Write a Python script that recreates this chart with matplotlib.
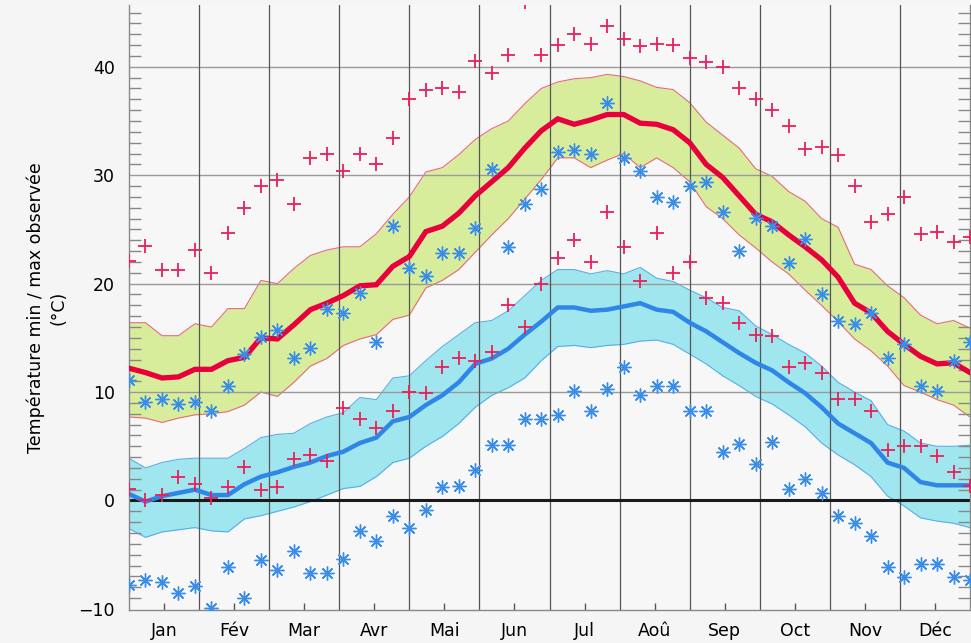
import numpy as np
import matplotlib
matplotlib.use("Agg")
import matplotlib.pyplot as plt

months = ["Jan", "Fév", "Mar", "Avr", "Mai", "Jun", "Jul", "Aoû", "Sep", "Oct", "Nov", "Déc"]

# weekly values (52 points over the year)
tmax_mean = [12.2, 11.8, 11.3, 11.4, 12.1, 12.1, 12.9, 13.2, 15.0, 14.9, 16.2, 17.6, 18.2, 18.9,
             19.8, 19.9, 21.6, 22.5, 24.8, 25.3, 26.5, 28.1, 29.4, 30.7, 32.5, 34.1, 35.2,
             34.7, 35.1, 35.6, 35.6, 34.8, 34.7, 34.2, 33.0, 31.0, 29.8, 28.1, 26.4,
             25.7, 24.5, 23.4, 22.2, 20.6, 18.2, 17.3, 15.6, 14.4, 13.3, 12.6, 12.7, 11.8]
tmax_hi = [16.4, 16.4, 15.2, 15.2, 16.3, 16.0, 17.7, 17.7, 20.3, 20.0, 21.4, 22.6, 23.1, 23.4,
           23.4, 24.6, 26.4, 28.0, 30.3, 30.7, 31.9, 33.3, 34.3, 35.0, 36.6, 38.0, 38.6,
           38.9, 39.0, 39.3, 39.1, 38.7, 38.1, 37.9, 36.7, 34.9, 33.7, 32.5, 30.6,
           29.9, 28.5, 27.6, 26.0, 25.2, 21.8, 21.3, 19.8, 18.7, 17.1, 16.3, 16.6, 15.9]
tmax_lo = [7.7, 7.6, 7.2, 7.6, 7.9, 8.0, 8.2, 8.8, 10.0, 9.6, 10.9, 12.4, 13.1, 14.3,
           14.9, 15.3, 16.7, 17.1, 19.6, 20.3, 21.3, 22.9, 24.5, 26.0, 27.8, 29.6, 31.6,
           31.6, 30.7, 31.4, 32.0, 30.7, 31.6, 30.7, 29.4, 27.1, 26.0, 24.5, 23.3,
           22.0, 20.9, 19.4, 18.0, 16.5, 14.9, 13.8, 12.4, 10.6, 10.0, 9.3, 8.8, 7.7]
tmin_mean = [0.6, -0.1, 0.4, 0.7, 1.0, 0.5, 0.5, 1.5, 2.2, 2.6, 3.1, 3.5, 4.1, 4.5,
             5.3, 5.8, 7.3, 7.7, 8.8, 9.7, 10.9, 12.6, 13.1, 14.0, 15.3, 16.5, 17.8,
             17.8, 17.5, 17.6, 17.9, 18.2, 17.6, 17.4, 16.4, 15.6, 14.6, 13.6, 12.7,
             12.0, 10.9, 9.9, 8.6, 7.1, 6.2, 5.3, 3.5, 3.0, 1.7, 1.4, 1.4, 1.4]
tmin_hi = [3.9, 3.0, 3.5, 3.8, 3.9, 3.9, 3.9, 4.8, 5.8, 6.1, 6.2, 7.1, 7.7, 8.1,
           9.5, 9.3, 11.3, 11.5, 12.9, 14.2, 15.3, 16.4, 16.6, 17.5, 18.9, 20.3, 21.3,
           21.3, 20.9, 21.2, 20.9, 21.5, 20.5, 20.2, 19.4, 18.7, 17.8, 17.5, 16.1,
           15.3, 14.4, 13.6, 12.4, 10.9, 10.0, 9.2, 7.0, 6.4, 5.3, 5.0, 5.0, 5.1]
tmin_lo = [-2.6, -3.4, -2.9, -2.7, -2.5, -2.8, -2.9, -1.7, -1.4, -1.0, -0.6, -0.1, 0.5, 1.1,
           1.3, 2.2, 3.5, 3.9, 5.0, 5.9, 7.1, 8.6, 9.7, 10.4, 11.3, 12.9, 14.2,
           14.3, 14.1, 14.3, 14.4, 14.7, 14.8, 14.4, 13.5, 12.6, 11.5, 10.6, 9.6,
           8.9, 7.9, 6.8, 5.3, 4.2, 3.3, 2.2, 0.4, -0.5, -1.6, -1.9, -2.1, -2.5]
rec_max_hi = [22.1, 23.5, 21.25, 21.25, 23.1, 21.0, 24.7, 27.0, 29.0, 29.6, 27.3, 31.6, 32.0, 30.4,
              32.0, 31.0, 33.4, 37.0, 37.9, 38.05, 37.7, 40.5, 39.4, 41.1, 46.0, 41.1, 42.0,
              43.0, 42.1, 43.8, 42.6, 41.9, 42.1, 42.0, 40.8, 40.4, 40.0, 38.0, 37.0,
              36.0, 34.5, 32.4, 32.6, 31.9, 29.0, 25.7, 26.4, 28.0, 24.6, 24.8, 23.8, 24.3]
rec_max_lo = [1.05, 0.0, 0.5, 2.2, 1.5, 0.25, 1.2, 3.1, 1.0, 1.2, 3.8, 4.2, 3.6, 8.5,
              7.5, 6.7, 8.3, 10.0, 9.9, 12.3, 13.1, 12.9, 13.7, 18.0, 16.0, 20.0, 22.4,
              24.0, 22.0, 26.6, 23.4, 20.2, 24.7, 21.0, 22.0, 18.7, 18.2, 16.4, 15.3,
              15.2, 12.3, 12.7, 11.8, 9.4, 9.4, 8.3, 4.7, 5.0, 5.0, 4.1, 2.6, 1.3]
rec_min_hi = [11.1, 9.1, 9.4, 8.9, 9.1, 8.3, 10.6, 13.5, 15.1, 15.7, 13.1, 14.1, 17.7, 17.3,
              19.1, 14.6, 25.3, 21.4, 20.7, 22.8, 22.8, 25.1, 30.6, 23.4, 27.3, 28.7, 32.1,
              32.3, 32.0, 36.7, 31.6, 30.4, 28.0, 27.5, 29.0, 29.4, 26.6, 23.0, 26.1,
              25.3, 21.9, 24.1, 19.0, 16.6, 16.3, 17.3, 13.1, 14.4, 10.6, 10.1, 12.9, 14.6]
rec_min_lo = [-7.8, -7.3, -7.5, -8.5, -7.9, -9.9, -6.1, -9.0, -5.5, -6.4, -4.7, -6.7, -6.7, -5.4,
              -2.8, -3.7, -1.4, -2.5, -0.9, 1.2, 1.3, 2.8, 5.1, 5.1, 7.5, 7.5, 7.9,
              10.1, 8.3, 10.3, 12.3, 9.7, 10.6, 10.6, 8.3, 8.3, 4.5, 5.2, 3.4,
              5.4, 1.05, 2.0, 0.7, -1.4, -2.1, -3.3, -6.1, -7.1, -5.9, -5.9, -7.1, -7.35]

x = np.linspace(0, 12, len(tmax_mean))

BG = "#f7f7f7"
fig = plt.figure(figsize=(9.71, 6.43), dpi=100, facecolor="#f5f5f5")
ax = fig.add_axes([129 / 971, 1 - 610 / 643, 841 / 971, 605 / 643])
ax.set_facecolor(BG)

# bands
ax.fill_between(x, tmax_lo, tmax_hi, color="#d8ed9c", lw=0, zorder=1)
ax.plot(x, tmax_hi, color="#e86a80", lw=0.8, zorder=1.5)
ax.plot(x, tmax_lo, color="#e86a80", lw=0.8, zorder=1.5)
ax.fill_between(x, tmin_lo, tmin_hi, color="#a0e6ee", lw=0, zorder=1)
ax.plot(x, tmin_hi, color="#5aaee8", lw=0.8, zorder=1.5)
ax.plot(x, tmin_lo, color="#5aaee8", lw=0.8, zorder=1.5)

# grid
for yv in [10, 20, 30, 40]:
    ax.axhline(yv, color="#9a9a9a", lw=1.0, zorder=2)
for m in range(1, 12):
    ax.axvline(m, color="#555555", lw=0.9, zorder=2)
ax.axhline(0, color="#1a1a1a", lw=2.2, zorder=2.2)

# mean lines
ax.plot(x, tmax_mean, color="#e8003c", lw=3.8, zorder=3, solid_joinstyle="miter")
ax.plot(x, tmin_mean, color="#2f86e6", lw=3.2, zorder=3, solid_joinstyle="miter")

# records
red_m = "#e8205a"
blue_m = "#3a8ee8"
ax.plot(x, rec_max_hi, ls="none", marker="+", ms=10, mew=1.3, color=red_m, zorder=4)
ax.plot(x, rec_max_lo, ls="none", marker="+", ms=10, mew=1.3, color=red_m, zorder=4)
ax.plot(x, rec_min_hi, ls="none", marker=(8, 2, 0), ms=10, mew=1.0, color=blue_m, zorder=4)
ax.plot(x, rec_min_lo, ls="none", marker=(8, 2, 0), ms=10, mew=1.0, color=blue_m, zorder=4)

ax.set_xlim(0, 12)
ax.set_ylim(-10.1, 45.7)

ax.set_xticks(np.arange(12) + 0.5)
ax.set_xticklabels(months)
ax.set_yticks([-10, 0, 10, 20, 30, 40])
ax.set_yticks(np.arange(-10, 46, 1), minor=True)
ax.tick_params(axis="x", which="major", direction="in", length=5, width=1, color="#555555",
               labelsize=12.5, pad=9)
ax.tick_params(axis="y", which="major", length=0, labelsize=12.5, pad=10)
ax.tick_params(axis="y", which="minor", direction="in", length=8.5, width=1, color="#888888",
               left=True, right=True)

for s in ["top"]:
    ax.spines[s].set_visible(False)
for s in ["left", "right", "bottom"]:
    ax.spines[s].set_color("#888888")
    ax.spines[s].set_linewidth(1.0)

ax.set_ylabel("Température min / max observée\n(°C)", fontsize=12.5, labelpad=8,
              linespacing=1.3)

fig.savefig("out.png", dpi=100, facecolor=fig.get_facecolor())
